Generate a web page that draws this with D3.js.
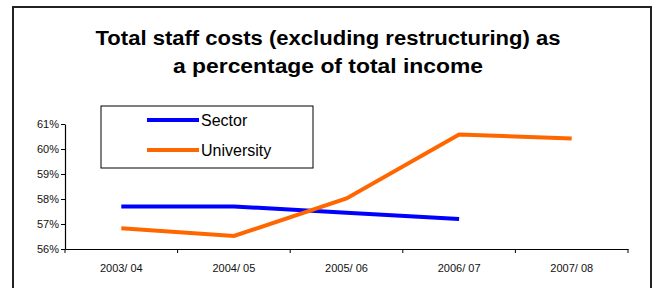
<!DOCTYPE html>
<html><head><meta charset="utf-8">
<script src="https://cdn.jsdelivr.net/npm/d3@7"></script>
<style>body{margin:0;background:#fff}svg{display:block}text{font-family:"Liberation Sans",Arial,sans-serif}</style>
</head><body>
<svg id="c" width="656" height="288"></svg>
<script>
const categories = ["2003/ 04","2004/ 05","2005/ 06","2006/ 07","2007/ 08"];
const sectorValues = [57.7, 57.7, 57.45, 57.2, null];
const universityValues = [56.83, 56.52, 58.02, 60.58, 60.42];
const yTicks = [56,57,58,59,60,61];
const seriesNames = ["Sector","University"];
const seriesColors = ["#0000ff","#ff6600"];
const titleLines = ["Total staff costs (excluding restructuring) as","a percentage of total income"];

const svg = d3.select("#c");
// outer frame
svg.append("path").attr("d","M13,300V7H651V300").attr("fill","none").attr("stroke","#222").attr("stroke-width",2);

svg.append("g").selectAll("text").data(titleLines).join("text")
  .attr("x",328).attr("y",(d,i)=>45+i*28).attr("text-anchor","middle")
  .attr("font-size",20).attr("font-weight","bold").attr("fill","#000")
  .attr("textLength",(d,i)=>i===0?465:310).attr("lengthAdjust","spacingAndGlyphs")
  .text(d=>d);

const x = d3.scaleBand().domain(categories).range([65,628]);
const y = d3.scaleLinear().domain([56,61]).range([249,124]);

const yAxis = svg.append("g").attr("transform","translate(65,0)")
  .call(d3.axisLeft(y).tickValues(yTicks).tickFormat(d=>d+"%").tickSize(4).tickSizeOuter(0));
const xAxis = svg.append("g").attr("transform","translate(0,249)")
  .call(d3.axisBottom(x).tickSize(0).tickPadding(15));
// category boundary ticks
xAxis.selectAll("line.b").data(categories.map(c=>x(c)).concat([628])).join("line")
  .attr("class","b").attr("x1",d=>d).attr("x2",d=>d).attr("y1",0).attr("y2",4).attr("stroke","#000");
[yAxis,xAxis].forEach(g=>{
  g.selectAll("path.domain").attr("stroke","#000").attr("stroke-width",1.2);
  g.selectAll("text").attr("font-size",11).attr("fill","#111").attr("font-family","Liberation Sans, Arial, sans-serif");
});
yAxis.selectAll(".tick line").attr("stroke","#000");
yAxis.selectAll("text").attr("dx","1px");

const line = d3.line().defined(d=>d.v!=null).x(d=>x(d.c)+x.bandwidth()/2).y(d=>y(d.v));
[sectorValues,universityValues].forEach((vals,i)=>{
  svg.append("path").datum(categories.map((c,j)=>({c,v:vals[j]})))
    .attr("d",line).attr("fill","none").attr("stroke",seriesColors[i]).attr("stroke-width",4);
});

// legend
const lg = svg.append("g");
lg.append("rect").attr("x",101).attr("y",106).attr("width",212).attr("height",62)
  .attr("fill","#fff").attr("stroke","#000").attr("stroke-width",1);
seriesNames.forEach((n,i)=>{
  const cy = 120 + i*30;
  lg.append("line").attr("x1",147).attr("x2",199).attr("y1",cy).attr("y2",cy)
    .attr("stroke",seriesColors[i]).attr("stroke-width",4);
  lg.append("text").attr("x",201).attr("y",cy+6).attr("font-size",16).attr("fill","#000").text(n);
});
</script>
</body></html>
